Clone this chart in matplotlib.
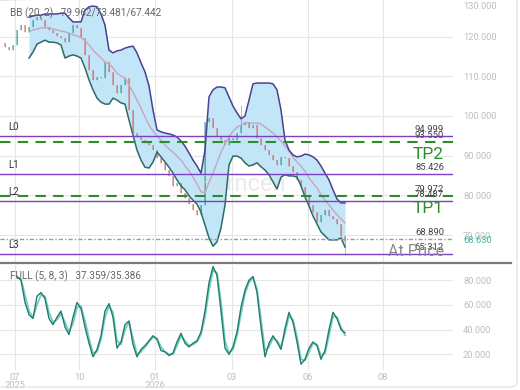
import numpy as np
import matplotlib
matplotlib.use("Agg")
import matplotlib.pyplot as plt
from matplotlib.lines import Line2D
from matplotlib.patches import FancyBboxPatch
import matplotlib.transforms as mtransforms

plt.rcParams['font.family'] = ['Roboto', 'DejaVu Sans']

# ---------------- data ----------------
close = [117.4, 116.6, 117.9, 121.7, 122.9, 121.2, 122.4, 124.2, 124.9, 124.2,
         122.4, 121.7, 120.9, 120.2, 119.6, 118.6, 120.9, 122.9, 122.2, 119.6,
         115.4, 111.6, 109.1, 109.8, 109.6, 113.6, 111.1, 107.8, 105.8, 107.8,
         109.6, 101.5, 95.7, 94.7, 94.0, 93.2, 92.7, 91.4, 89.4, 88.2,
         86.4, 84.9, 82.4, 83.1, 80.6, 79.3, 77.8, 76.3, 75.1, 77.6,
         98.5, 99.5, 97.0, 94.7, 93.9, 92.7, 94.5, 94.0, 95.7, 97.7,
         98.5, 97.0, 97.7, 94.5, 92.7, 91.4, 90.2, 88.9, 87.7, 89.7,
         89.4, 87.4, 85.9, 83.9, 82.1, 80.1, 77.6, 75.8, 73.3, 75.1,
         76.3, 74.8, 74.0, 72.8, 69.8, 68.63]
first_open = 118.5
wick_high = {59: 102.8}
wick_low = {85: 65.0}

band_start = 6
bb_upper = [124.9, 125.2, 125.4, 125.4, 125.7, 125.7, 125.7, 125.7, 125.9, 125.9,
            124.7, 123.7, 123.7, 123.7, 126.7, 127.5, 127.7, 127.5, 125.7, 122.9,
            116.6, 115.9, 116.4, 116.6, 117.1, 117.4, 117.6, 115.9, 113.4, 111.1,
            107.6, 101.5, 96.5, 96.0, 95.7, 95.5, 95.2, 94.7, 93.7, 92.4,
            90.7, 88.9, 87.4, 85.6, 91.4, 104.8, 106.6, 107.3, 107.3, 107.1,
            104.8, 102.5, 100.8, 99.3, 100.0, 104.0, 108.1, 108.3, 108.3, 108.3,
            108.3, 108.1, 106.6, 101.5, 93.9, 91.4, 90.2, 89.7, 89.9, 90.4,
            90.2, 89.7, 88.9, 87.4, 85.6, 83.9, 81.4, 79.1, 78.1, 78.1]
bb_mid = [121.2, 121.7, 121.9, 122.2, 122.2, 122.2, 121.9, 121.7, 121.4, 121.2,
          120.9, 120.4, 120.2, 119.7, 119.1, 117.9, 116.6, 115.6, 114.6, 113.6,
          113.1, 112.1, 110.8, 110.1, 109.6, 107.8, 106.0, 104.0, 102.0, 99.8,
          97.7, 96.2, 95.0, 93.9, 92.7, 91.7, 90.9, 89.9, 88.9, 87.4,
          86.2, 84.6, 82.9, 80.9, 80.6, 83.4, 85.6, 88.2, 90.9, 92.9,
          94.7, 96.2, 97.2, 97.7, 98.2, 98.2, 98.2, 98.2, 98.0, 97.2,
          96.5, 95.7, 94.7, 93.7, 92.4, 91.2, 89.7, 88.4, 87.4, 86.1,
          84.4, 83.1, 81.9, 80.1, 78.8, 77.6, 76.3, 75.1, 74.1, 73.1]
bb_lower = [114.6, 116.1, 118.1, 118.6, 119.1, 118.6, 118.6, 118.4, 117.9, 114.6,
            115.1, 115.4, 115.1, 114.6, 112.1, 109.1, 106.6, 104.5, 103.5, 103.0,
            103.0, 104.5, 104.0, 103.3, 103.0, 99.0, 95.2, 91.4, 88.9, 87.1,
            86.9, 88.4, 90.9, 89.7, 88.4, 87.1, 85.6, 83.9, 82.4, 81.4,
            79.9, 78.8, 77.8, 75.8, 72.5, 69.3, 67.2, 68.3, 71.8, 77.6,
            87.7, 89.9, 89.9, 89.4, 88.2, 87.4, 87.7, 88.2, 87.2, 86.4,
            85.2, 83.4, 81.6, 84.6, 85.2, 84.9, 84.9, 84.6, 82.4, 79.6,
            77.3, 74.8, 72.8, 70.8, 69.8, 68.8, 68.8, 68.8, 69.3, 67.0]

stoch_start = 3
stoch_k = [83, 80, 62, 52, 49, 67, 70, 65, 49, 44,
           50, 55, 42, 36, 50, 62, 57, 42, 29, 18,
           24, 35, 55, 61, 50, 25, 30, 44, 47, 28,
           18, 24, 27, 31, 35, 32, 23, 22, 19, 21,
           30, 37, 29, 26, 29, 31, 38, 55, 78, 91,
           84, 55, 25, 20, 26, 38, 58, 72, 80, 83,
           70, 42, 18, 29, 35, 30, 24, 41, 54, 46,
           30, 12, 16, 25, 30, 27, 16, 23, 40, 54,
           49, 40, 37.359]
stoch_d = [82, 81, 68, 55, 50, 60, 68, 67, 54, 46,
           48, 53, 46, 38, 45, 58, 59, 47, 33, 21,
           22, 32, 50, 59, 54, 31, 28, 40, 46, 33,
           20, 22, 26, 30, 34, 33, 26, 22, 20, 20,
           27, 35, 31, 27, 28, 30, 36, 50, 72, 88,
           86, 62, 31, 21, 24, 35, 53, 69, 78, 82,
           73, 48, 23, 26, 33, 31, 26, 37, 51, 48,
           34, 16, 15, 22, 29, 28, 19, 21, 35, 51,
           50, 42, 35.386]

levels = [94.999, 85.426, 78.487, 65.312]
level_names = ["L0", "L1", "L2", "L3"]
tp_levels = [93.550, 79.972]
tp_names = ["TP2", "TP1"]
price_line = 68.890
last_price = 68.630

month_pos = [2.5, 18.5, 37.5, 56.75, 75.75, 94.5]
month_labels = ["07\n2025", "10", "01\n2026", "03", "06", "08"]
main_ticks = [70, 80, 90, 100, 110, 120]
osc_ticks = [20, 40, 60, 80]

bb_text = "BB (20, 2)   79.962/73.481/67.442"
stoch_text = "FULL (5, 8, 3)   37.359/35.386"

# ---------------- figure ----------------
W, H = 520, 390
fig = plt.figure(figsize=(W / 100, H / 100), dpi=100)
fig.patch.set_facecolor("white")

plot_right = 453 / W
ax = fig.add_axes([0, 1 - 263 / H, plot_right, 263 / H])
ax2 = fig.add_axes([0, 20 / H, plot_right, 105 / H])

n = len(close)
x = np.arange(n)
xlim = (-1.25, 112)

grid_c = "#e6e6e6"
tick_c = "#bdbdbd"

for a in (ax, ax2):
    a.set_xlim(*xlim)
    for s in a.spines.values():
        s.set_visible(False)
    a.set_xticks(month_pos)
    a.grid(True, color=grid_c, lw=0.8)
    a.set_axisbelow(True)
    a.yaxis.tick_right()
    a.tick_params(axis="y", length=0, pad=7.2, labelsize=6.7, labelcolor=tick_c)
    a.tick_params(axis="x", length=0)

ax.set_xticklabels([])
ax2.set_xticklabels(month_labels, fontsize=6.7, color=tick_c, linespacing=0.95)
ax2.tick_params(axis="x", pad=2)

# main panel
ax.set_ylim(62.97, 129.22)
ax.set_yticks(main_ticks)
ax.set_yticklabels([f"{v:.3f}" for v in main_ticks])
ax.text(463 / 453, 0.975, "130.000", transform=ax.transAxes, fontsize=6.7,
        color=tick_c, va="center", ha="left", clip_on=False)

xb = x[band_start:band_start + len(bb_upper)]
ax.fill_between(xb, bb_lower, bb_upper, color="#c2e6f7", zorder=1, lw=0)

opens = [first_open] + close[:-1]
highs = [max(o, c) for o, c in zip(opens, close)]
lows = [min(o, c) for o, c in zip(opens, close)]
for k, v in wick_high.items():
    highs[k] = v
for k, v in wick_low.items():
    lows[k] = v
for i in range(n):
    col = "#2e9e8f" if close[i] >= opens[i] else "#d9605c"
    ax.vlines(x[i], lows[i], highs[i], color=col, lw=0.7, alpha=0.55, zorder=2)
    ax.vlines(x[i], min(opens[i], close[i]), max(opens[i], close[i]),
              color=col, lw=1.2, alpha=0.6, zorder=2)

ax.plot(xb, bb_mid, color="#c9a3c2", lw=1.0, zorder=3)
ax.plot(xb, bb_upper, color="#4b3f8f", lw=1.1, zorder=3)
ax.plot(xb, bb_lower, color="#2d6b69", lw=1.1, zorder=3)

# watermark
ax.text(0.535, 0.3, "Forncen", transform=ax.transAxes, fontsize=17,
        color="#dcdcdc", alpha=0.6, ha="center", va="center", zorder=2)

lab_x = 444 / 453
off = mtransforms.offset_copy
for v, name in zip(levels, level_names):
    ax.axhline(v, color="#7a3fc4", lw=1.0, zorder=4)
    ax.text(8 / 453, v, name, transform=off(ax.get_yaxis_transform(), fig=fig, x=0, y=9, units="dots"),
            fontsize=7, color="#333333", ha="left", va="center", zorder=5)
    ax.text(lab_x, v, f"{v:.3f}", transform=off(ax.get_yaxis_transform(), fig=fig, x=0, y=6.5, units="dots"),
            fontsize=6.8, color="#444444", ha="right", va="center", zorder=5)

for v, name in zip(tp_levels, tp_names):
    ax.axhline(v, color="#2e8b2e", lw=1.5, ls=(0, (5, 3.5)), zorder=4)
    ax.text(lab_x, v, f"{v:.3f}", transform=off(ax.get_yaxis_transform(), fig=fig, x=0, y=6.5, units="dots"),
            fontsize=6.8, color="#444444", ha="right", va="center", zorder=5)
    ax.text(lab_x, v, name, transform=off(ax.get_yaxis_transform(), fig=fig, x=0, y=-12.5, units="dots"),
            fontsize=12.5, color="#2e8b2e", ha="right", va="center", zorder=5)

ax.axhline(price_line, color="#9a9a9a", lw=1.0, ls=(0, (3, 1.5, 1, 1.5)), zorder=4)
ax.text(lab_x, price_line, f"{price_line:.3f}",
        transform=off(ax.get_yaxis_transform(), fig=fig, x=0, y=6.5, units="dots"),
        fontsize=6.8, color="#444444", ha="right", va="center", zorder=5)
ax.text(lab_x, price_line, "At Price",
        transform=off(ax.get_yaxis_transform(), fig=fig, x=0, y=-12.5, units="dots"),
        fontsize=11.5, color="#8a8a8a", ha="right", va="center", zorder=5)
ax.text(463 / 453, last_price, f"{last_price:.3f}", transform=ax.get_yaxis_transform(),
        fontsize=6.7, color="#3fb3a0", ha="left", va="center", clip_on=False)

ax.text(10 / 453, 1 - 13 / 263, bb_text, transform=ax.transAxes, fontsize=7.2,
        color="#666666", ha="left", va="center", zorder=6)

# oscillator panel
ax2.set_ylim(7.3, 92.3)
ax2.set_yticks(osc_ticks)
ax2.set_yticklabels([f"{v:.3f}" for v in osc_ticks])
xs = x[stoch_start:stoch_start + len(stoch_k)]
ax2.plot(xs, stoch_d, color="#6fd0bd", lw=1.3, zorder=3)
ax2.plot(xs, stoch_k, color="#257a70", lw=1.0, zorder=4)
ax2.text(10 / 453, 1 - 11 / 105, stoch_text, transform=ax2.transAxes, fontsize=7.2,
         color="#666666", ha="left", va="center", zorder=6)

# separator and frame
fig.add_artist(Line2D([0, 511 / W], [1 - 263 / H, 1 - 263 / H], transform=fig.transFigure,
                      color="#7a7a7a", lw=1.6))
fig.add_artist(FancyBboxPatch((-0.02, 3 / H), 517 / W + 0.02, 1.0,
                              boxstyle="round,pad=0,rounding_size=0.012",
                              transform=fig.transFigure, fill=False,
                              edgecolor="#e0e0e0", lw=0.8))

fig.savefig("out.png", dpi=100)
